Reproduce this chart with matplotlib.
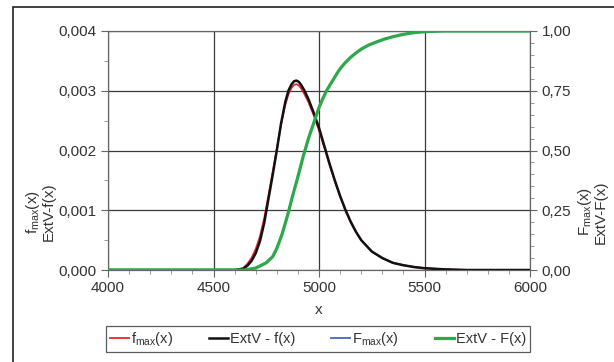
import matplotlib
matplotlib.use('Agg')
import matplotlib.pyplot as plt
from matplotlib.patches import Rectangle
from matplotlib.ticker import MultipleLocator, FuncFormatter

plt.rcParams['font.family'] = ['Liberation Sans', 'DejaVu Sans']

# density curves (left axis)
x_pdf = [4000, 4600, 4640, 4660, 4680, 4700, 4720, 4740, 4760, 4780, 4800, 4820,
         4840, 4855, 4870, 4882, 4893, 4904, 4915, 4930, 4950, 4975, 5000, 5025,
         5050, 5075, 5100, 5125, 5150, 5175, 5200, 5250, 5300, 5350, 5400, 5450,
         5500, 5600, 5700, 6000]
f_max = [0, 0, 0.00003, 0.0001, 0.0002, 0.00035, 0.00056, 0.00086, 0.00124, 0.00163,
         0.00203, 0.00243, 0.00276, 0.00294, 0.00305, 0.0031, 0.00311, 0.00309,
         0.00304, 0.00295, 0.00281, 0.00259, 0.00234, 0.00205, 0.00176, 0.00148,
         0.00123, 0.001, 0.0008, 0.00064, 0.0005, 0.00031, 0.0002, 0.00012,
         0.00008, 0.00005, 0.00003, 0.00001, 0, 0]
extv_f = [0, 0, 0.00002, 0.00007, 0.00015, 0.00028, 0.00048, 0.00078, 0.00118, 0.00158,
          0.002, 0.00245, 0.00281, 0.003, 0.00311, 0.00316, 0.00317, 0.00315,
          0.0031, 0.00301, 0.00286, 0.00263, 0.00238, 0.00208, 0.00178, 0.0015,
          0.00124, 0.00101, 0.00081, 0.00064, 0.0005, 0.00031, 0.0002, 0.00012,
          0.00008, 0.00005, 0.00003, 0.00001, 0, 0]

# distribution curves (right axis)
x_cdf = [4000, 4650, 4700, 4750, 4780, 4800, 4825, 4850, 4875, 4900, 4925, 4950,
         4975, 5000, 5018, 5036, 5053, 5070, 5085, 5100, 5125, 5150, 5175, 5200,
         5235, 5275, 5310, 5350, 5390, 5425, 5460, 5500, 5550, 5600, 6000]
F_max = [0, 0, 0.009, 0.032, 0.057, 0.092, 0.152, 0.227, 0.312, 0.392, 0.476, 0.551,
         0.616, 0.681, 0.718, 0.751, 0.777, 0.801, 0.823, 0.843, 0.869, 0.891, 0.909,
         0.925, 0.942, 0.956, 0.967, 0.977, 0.985, 0.99, 0.994, 0.997, 0.999, 1, 1]
extv_F = [0, 0, 0.008, 0.03, 0.055, 0.09, 0.15, 0.225, 0.31, 0.39, 0.475, 0.55,
          0.615, 0.68, 0.717, 0.75, 0.776, 0.8, 0.822, 0.842, 0.868, 0.89, 0.908,
          0.924, 0.941, 0.955, 0.966, 0.976, 0.984, 0.99, 0.994, 0.997, 0.999, 1, 1]

fig = plt.figure(figsize=(6.14, 3.62), dpi=100)
ax = fig.add_axes([108/614, 1-270/362, 422/614, 239/362])
ax2 = ax.twinx()

l1, = ax.plot(x_pdf, f_max, color='#e8252b', lw=1.3, zorder=3)
l2, = ax.plot(x_pdf, extv_f, color='#111111', lw=1.8, zorder=4)
l3, = ax2.plot(x_cdf, F_max, color='#4a63c4', lw=1.3, zorder=3)
l4, = ax2.plot(x_cdf, extv_F, color='#2ea84a', lw=2.3, zorder=4)

ax.set_xlim(4000, 6000)
ax.set_ylim(0, 0.004)
ax2.set_ylim(0, 1)
ax.xaxis.set_major_locator(MultipleLocator(500))
ax.xaxis.set_minor_locator(MultipleLocator(100))
ax.yaxis.set_major_locator(MultipleLocator(0.001))
ax.yaxis.set_minor_locator(MultipleLocator(0.0005))
ax2.yaxis.set_major_locator(MultipleLocator(0.25))
ax2.yaxis.set_minor_locator(MultipleLocator(0.05))

ax.yaxis.set_major_formatter(FuncFormatter(lambda v, p: f'{v:.3f}'.replace('.', ',')))
ax2.yaxis.set_major_formatter(FuncFormatter(lambda v, p: f'{v:.2f}'.replace('.', ',')))
ax.xaxis.set_major_formatter(FuncFormatter(lambda v, p: f'{v:.0f}'))

ax.grid(True, which='major', color='#3a3a3a', lw=0.9)
ax.set_axisbelow(True)
for a in (ax, ax2):
    for s in a.spines.values():
        s.set_color('#666666')
    a.tick_params(which='major', length=5, color='#666666', labelsize=11, labelcolor='#333333')
    a.tick_params(which='minor', length=3, color='#888888')
ax.tick_params(axis='x', pad=3)

ax.set_xlabel('x', fontsize=11, color='#333333', labelpad=6)
fig.text(40/614, 150/362, '$\\mathregular{f_{max}(x)}$\nExtV-f(x)', rotation=90,
         ha='center', va='center', fontsize=11, color='#333333', linespacing=1.0)
fig.text(592/614, 150/362, '$\\mathregular{F_{max}(x)}$\nExtV-F(x)', rotation=90,
         ha='center', va='center', fontsize=11, color='#333333', linespacing=1.0)

leg = fig.legend([l1, l2, l3, l4],
                 ['$\\mathregular{f_{max}(x)}$', 'ExtV - f(x)',
                  '$\\mathregular{F_{max}(x)}$', 'ExtV - F(x)'],
                 loc='center', bbox_to_anchor=(318/614, 1-339/362), ncol=4,
                 fontsize=10.5, frameon=True, fancybox=False, handlelength=1.3,
                 handletextpad=0.1, columnspacing=2.5, borderpad=0.3)
leg.get_frame().set_edgecolor('#333333')
leg.get_frame().set_linewidth(0.9)
for t in leg.get_texts():
    t.set_color('#333333')

fig.add_artist(Rectangle((13/614, -0.1), 1.2, 1-7/362+0.1, transform=fig.transFigure,
                         fill=False, edgecolor='#222222', lw=1.2))

fig.savefig('out.png', dpi=100)
